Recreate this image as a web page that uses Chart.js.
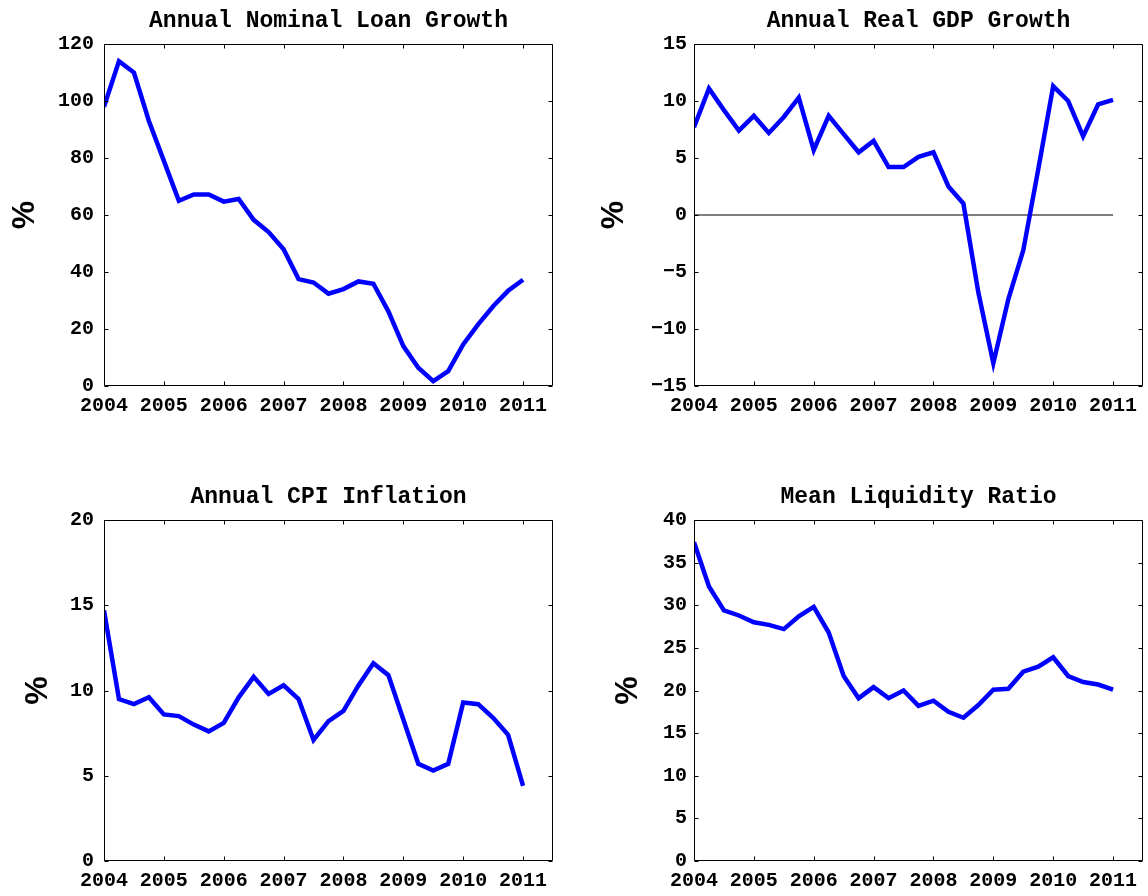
<!DOCTYPE html>
<html><head><meta charset="utf-8">
<script src="https://cdn.jsdelivr.net/npm/chart.js@4.4.1/dist/chart.umd.min.js"></script>
<style>
html,body{margin:0;padding:0;background:#fff;width:1148px;height:896px;overflow:hidden}
canvas{position:absolute}
</style></head><body>
<canvas id="c1" style="left:0px;top:0px" width="574" height="430"></canvas>
<canvas id="c2" style="left:574px;top:0px" width="574" height="430"></canvas>
<canvas id="c3" style="left:0px;top:476px" width="574" height="429"></canvas>
<canvas id="c4" style="left:574px;top:476px" width="574" height="429"></canvas>
<script>
// Quarterly dates 2004Q1 .. 2011Q1
const quarters = [2004,2004.25,2004.5,2004.75,2005,2005.25,2005.5,2005.75,2006,2006.25,2006.5,2006.75,
  2007,2007.25,2007.5,2007.75,2008,2008.25,2008.5,2008.75,2009,2009.25,2009.5,2009.75,2010,2010.25,2010.5,2010.75,2011];
const xTickValues = [2004,2005,2006,2007,2008,2009,2010,2011];
const xTickLabels = ['2004','2005','2006','2007','2008','2009','2010','2011'];

const loanGrowth = [98,114,110,93,79,65,67.2,67.2,64.7,65.6,58.3,54,48,37.5,36.3,32.4,34,36.7,35.9,26.2,14,6.4,1.7,5.2,14.6,21.6,28,33.4,37.3];
const gdpGrowth = [7.7,11.1,9.2,7.4,8.7,7.2,8.6,10.3,5.7,8.7,7.1,5.5,6.5,4.2,4.2,5.1,5.5,2.5,1.0,-6.8,-13.0,-7.4,-3.1,4.0,11.3,10.0,6.9,9.7,10.1];
const gdpZeroLine = [0,0,0,0,0,0,0,0,0,0,0,0,0,0,0,0,0,0,0,0,0,0,0,0,0,0,0,0,0];
const cpiInflation = [14.7,9.5,9.2,9.6,8.6,8.5,8.0,7.6,8.1,9.6,10.8,9.8,10.3,9.5,7.1,8.2,8.8,10.3,11.6,10.9,8.3,5.7,5.3,5.7,9.3,9.2,8.4,7.4,4.4];
const liquidityRatio = [37.4,32.2,29.4,28.8,28.0,27.7,27.2,28.7,29.8,26.8,21.7,19.1,20.4,19.1,20.0,18.2,18.8,17.5,16.8,18.3,20.1,20.2,22.2,22.8,23.9,21.7,21.0,20.7,20.1];

const loanTicks = [0,20,40,60,80,100,120];
const gdpTicks = [-15,-10,-5,0,5,10,15];
const cpiTicks = [0,5,10,15,20];
const liqTicks = [0,5,10,15,20,25,30,35,40];

const MONO = 'Liberation Mono';
const boxTicks = {
  id: 'boxTicks',
  afterDatasetsDraw(chart) {
    const {ctx, chartArea: a, scales: {x, y}} = chart;
    ctx.save();
    ctx.strokeStyle = '#000';
    ctx.lineWidth = 1;
    const L = Math.round(a.left) + 0.5, R = Math.round(a.right) - 0.5;
    const T = Math.round(a.top) + 0.5, B = Math.round(a.bottom) - 0.5;
    ctx.beginPath();
    ctx.rect(L, T, R - L, B - T);
    x.ticks.forEach(t => {
      const px = Math.round(x.getPixelForValue(t.value)) + 0.5;
      ctx.moveTo(px, B); ctx.lineTo(px, B - 4);
      ctx.moveTo(px, T); ctx.lineTo(px, T + 4);
    });
    y.ticks.forEach(t => {
      const py = Math.round(y.getPixelForValue(t.value)) + 0.5;
      ctx.moveTo(L, py); ctx.lineTo(L + 4, py);
      ctx.moveTo(R, py); ctx.lineTo(R - 4, py);
    });
    ctx.stroke();
    ctx.restore();
  }
};

function makePanel(id, title, values, yTicks, yW, padR, yTitlePad, yTickPad, extra) {
  const datasets = [{
    data: quarters.map((q, i) => ({x: q, y: values[i]})),
    borderColor: '#0000ff', borderWidth: 4.5, pointRadius: 0, tension: 0, fill: false
  }];
  if (extra) {
    datasets.push({
      data: quarters.map((q, i) => ({x: q, y: extra[i]})),
      borderColor: '#555555', borderWidth: 1.5, pointRadius: 0, tension: 0, fill: false
    });
  }
  const tickFont = {family: MONO, size: 20, weight: 'bold'};
  return new Chart(document.getElementById(id), {
    type: 'line',
    data: {datasets},
    options: {
      responsive: false, animation: false, devicePixelRatio: 1,
      layout: {padding: {left: 0, right: padR, top: 0, bottom: 0}},
      plugins: {
        legend: {display: false}, tooltip: {enabled: false},
        title: {display: true, text: title, fullSize: false, color: '#000',
          font: {family: MONO, size: 23, weight: 'bold', lineHeight: 1.2},
          padding: {top: 7, bottom: 9.4}}
      },
      scales: {
        x: {
          type: 'linear', min: 2004, max: 2011.5,
          afterBuildTicks: s => { s.ticks = xTickValues.map(v => ({value: v})); },
          afterFit: s => { s.height = 44; },
          ticks: {font: tickFont, color: '#000', padding: 8, maxRotation: 0, autoSkip: false,
            callback: (v, i) => xTickLabels[i]},
          grid: {display: false, drawTicks: false}, border: {display: false}
        },
        y: {
          type: 'linear', min: yTicks[0], max: yTicks[yTicks.length - 1],
          afterBuildTicks: s => { s.ticks = yTicks.map(v => ({value: v})); },
          afterFit: s => { s.width = yW; },
          ticks: {font: tickFont, color: '#000', padding: yTickPad,
            callback: v => String(v).replace('-', '\u2212')},
          grid: {display: false, drawTicks: false}, border: {display: false},
          title: {display: true, text: '%', color: '#000',
            font: {family: 'Liberation Sans', size: 32, weight: 'bold', lineHeight: 1.2},
            padding: {top: yTitlePad, bottom: 0}}
        }
      }
    },
    plugins: [boxTicks]
  });
}

makePanel('c1', 'Annual Nominal Loan Growth', loanGrowth, loanTicks, 104, 21, 6, 10);
makePanel('c2', 'Annual Real GDP Growth', gdpGrowth, gdpTicks, 120, 5, 21, 7, gdpZeroLine);
makePanel('c3', 'Annual CPI Inflation', cpiInflation, cpiTicks, 104, 21, 19, 10);
makePanel('c4', 'Mean Liquidity Ratio', liquidityRatio, liqTicks, 120, 5, 35, 7);
</script>
</body></html>
